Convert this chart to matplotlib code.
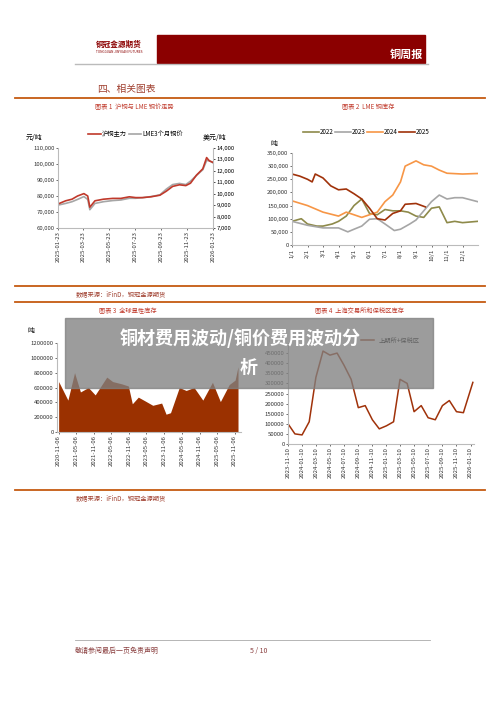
import matplotlib
matplotlib.use("Agg")
import matplotlib.pyplot as plt
import matplotlib.dates as mdates
import numpy as np
import pandas as pd

plt.rcParams['font.family'] = ['Noto Sans CJK SC', 'DejaVu Sans']

# Chart 1 data
c1_dates = ["2025-01-23","2025-02-10","2025-02-25","2025-03-10","2025-03-25","2025-04-03","2025-04-08","2025-04-20",
            "2025-05-10","2025-06-01","2025-06-20","2025-07-10","2025-07-25","2025-08-10","2025-08-30","2025-09-20",
            "2025-10-05","2025-10-20","2025-11-05","2025-11-20","2025-12-01","2025-12-15","2025-12-30","2026-01-08","2026-01-14","2026-01-23"]
c1_shfe = [75000,77000,78000,80000,81500,80000,73000,77000,78000,78500,78500,79500,79000,79000,79500,80500,
           83000,86000,87000,86500,88000,93000,97000,104000,102000,101000]
c1_lme = [9000,9150,9300,9500,9750,9500,8600,9150,9300,9400,9450,9600,9600,9650,9750,9900,
          10400,10800,10900,10800,11100,11600,12100,12900,12900,12700]

# Chart 2 data (month index on x)
y2022_x = [0,0.6,1,1.6,2,2.6,3,3.5,4,4.5,5,5.5,6,6.5,7,7.5,8,8.5,9,9.5,10,10.5,11,11.97]
y2022 = [90,100,80,72,72,80,90,110,150,175,120,115,135,130,130,125,110,105,140,145,85,90,85,90]
y2023_x = [0,1,2,3,3.6,4,4.5,5,5.5,6,6.6,7,7.6,8,8.5,9,9.5,10,10.5,11,11.97]
y2023 = [90,75,65,65,50,60,72,98,100,80,55,60,80,95,130,165,190,175,180,180,165]
y2024_x = [0,1,2,3,3.5,4,4.5,5,5.5,6,6.5,7,7.3,8,8.5,9,9.5,10,11,11.97]
y2024 = [168,150,125,110,125,115,105,115,125,165,190,240,300,320,305,300,285,273,270,272]
y2025_x = [0,0.5,1,1.3,1.5,2,2.5,3,3.5,4,4.5,5,5.5,6,6.5,7,7.3,8,8.6]
y2025 = [270,262,250,240,270,255,225,210,213,195,175,140,100,95,120,130,155,158,145]

# Chart 3 data
c3_dates = ["2020-11-06","2021-02-10","2021-04-20","2021-06-20","2021-09-10","2021-11-20","2022-03-20","2022-05-20",
            "2022-08-20","2022-10-30","2022-12-10","2023-02-10","2023-04-20","2023-07-10","2023-10-10","2023-11-25",
            "2024-01-10","2024-04-10","2024-06-20","2024-09-10","2024-12-10","2025-03-20","2025-06-10","2025-09-10",
            "2025-11-10","2025-12-10"]
c3_vals = [680000,430000,800000,540000,600000,500000,740000,680000,650000,620000,380000,470000,420000,360000,390000,240000,
           260000,600000,560000,600000,430000,670000,410000,640000,700000,880000]

# Chart 4 data
c4_dates = ["2023-11-10","2023-12-10","2024-01-10","2024-02-10","2024-03-10","2024-04-10","2024-05-10","2024-06-10",
            "2024-07-10","2024-08-10","2024-09-10","2024-10-10","2024-11-10","2024-12-10","2025-01-10","2025-02-10",
            "2025-03-10","2025-04-10","2025-05-10","2025-06-10","2025-07-10","2025-08-10","2025-09-10","2025-10-10",
            "2025-11-10","2025-12-10","2026-01-20"]
c4_vals = [100000,50000,45000,110000,330000,460000,440000,450000,390000,320000,180000,190000,120000,75000,90000,110000,
           320000,300000,160000,190000,130000,120000,190000,215000,160000,155000,305000]

W, H = 500, 707
fig = plt.figure(figsize=(5, 7.07), dpi=100)
fig.patch.set_facecolor('white')

def ax_px(x0, y0, x1, y1):
    return fig.add_axes([x0/W, 1-y1/H, (x1-x0)/W, (y1-y0)/H])

def txt(x, y, s, **kw):
    fig.text(x/W, 1-y/H, s, **kw)

def hline(y, x0, x1, color, lw):
    fig.add_artist(plt.Line2D([x0/W, x1/W], [1-y/H, 1-y/H], color=color, lw=lw))

LINE_OR = '#C55A11'
TITLE_C = '#C0392B'
fmt_comma = matplotlib.ticker.FuncFormatter(lambda v, p: f"{int(v):,}")
fmt_plain = matplotlib.ticker.FuncFormatter(lambda v, p: f"{int(v)}")

# header
fig.add_artist(plt.Rectangle((157/W, 1-63/H), 268/W, 28/H, color='#8B0000', transform=fig.transFigure))
hline(64, 75, 428, '#BBBBBB', 1)
txt(96, 44, "铜冠金源期货", fontsize=5.5, color='#8B0000', weight='bold', va='center')
txt(96, 52, "TONGGUAN JINYUAN FUTURES", fontsize=2.3, color='#8B0000', va='center')
txt(423, 54, "铜周报", fontsize=8, color='white', weight='bold', ha='right', va='center')
txt(97, 89, "四、相关图表", fontsize=7, color='#A04030', va='center')
for yy in [98, 286, 302, 490]:
    hline(yy, 15, 485, LINE_OR, 1.3)
txt(134, 107, "图表 1  沪铜与 LME 铜价走势", fontsize=4.5, color=TITLE_C, ha='center', va='center')
txt(368, 107, "图表 2  LME 铜库存", fontsize=4.5, color=TITLE_C, ha='center', va='center')
txt(76, 294, "数据来源：iFinD，铜冠金源期货", fontsize=4.5, color='#A04030', va='center')
txt(99, 311, "图表 3  全球显性库存", fontsize=4.5, color=TITLE_C, va='center')
txt(315, 311, "图表 4  上海交易所和保税区库存", fontsize=4.5, color=TITLE_C, va='center')
txt(76, 498, "数据来源：iFinD，铜冠金源期货", fontsize=4.5, color='#A04030', va='center')
hline(640, 75, 430, '#AAAAAA', 0.6)
txt(75, 651, "敬请参阅最后一页免责声明", fontsize=5, color='#8B4040', style='italic', va='center')
txt(250, 651, "5 / 10", fontsize=5, color='#8B4040', va='center')

def style(ax, fs=4.3):
    for s in ['top', 'right']:
        ax.spines[s].set_visible(False)
    ax.spines['left'].set_color('#BBBBBB')
    ax.spines['bottom'].set_color('#BBBBBB')
    ax.tick_params(labelsize=fs, length=1.5, width=0.5, colors='#333333', pad=1)

# Chart 1
ax1 = ax_px(58, 148, 213, 228)
d1 = pd.to_datetime(c1_dates)
ax1.set_ylim(60000, 110000)
ax1.set_yticks(range(60000, 110001, 10000))
ax1.yaxis.set_major_formatter(fmt_comma)
ax1.set_xlim(pd.Timestamp("2025-01-23"), pd.Timestamp("2026-01-23"))
ax1.set_xticks(pd.to_datetime(["2025-01-23","2025-03-23","2025-05-23","2025-07-23","2025-09-23","2025-11-23","2026-01-23"]))
ax1.xaxis.set_major_formatter(mdates.DateFormatter('%Y-%m-%d'))
style(ax1)
plt.setp(ax1.get_xticklabels(), rotation=90)
ax1b = ax1.twinx()
h2, = ax1b.plot(d1, c1_lme, color='#A6A6A6', lw=1.2)
ax1b.set_ylim(7000, 14000)
ax1b.set_yticks(range(7000, 14001, 1000))
ax1b.yaxis.set_major_formatter(fmt_comma)
for s in ['top', 'left', 'bottom']:
    ax1b.spines[s].set_visible(False)
ax1b.spines['right'].set_color('#BBBBBB')
ax1b.tick_params(labelsize=4.3, length=1.5, width=0.5, pad=1)
ax1.set_zorder(ax1b.get_zorder() + 1)
ax1.patch.set_visible(False)
h1, = ax1.plot(d1, c1_shfe, color='#C0392B', lw=1.2)
ax1.legend([h1, h2], ['沪铜主力', 'LME3个月铜价'], loc='lower center', bbox_to_anchor=(0.5, 1.05),
           ncol=2, frameon=False, fontsize=4.5, handlelength=2, columnspacing=0.3, handletextpad=0.2)
txt(26, 138, "元/吨", fontsize=5, va='center')
txt(203, 138, "美元/吨", fontsize=5, va='center')

# Chart 2
ax2 = ax_px(292, 153, 478, 245)
ax2.plot(y2022_x, np.array(y2022)*1000, color='#8E8A4A', lw=1.2, label='2022')
ax2.plot(y2023_x, np.array(y2023)*1000, color='#A6A6A6', lw=1.2, label='2023')
ax2.plot(y2024_x, np.array(y2024)*1000, color='#F79646', lw=1.2, label='2024')
ax2.plot(y2025_x, np.array(y2025)*1000, color='#A0320A', lw=1.2, label='2025')
ax2.set_ylim(0, 350000)
ax2.set_yticks(range(0, 350001, 50000))
ax2.yaxis.set_major_formatter(fmt_comma)
ax2.set_xlim(0, 12)
ax2.set_xticks(range(12))
ax2.set_xticklabels([f"{m}/1" for m in range(1, 13)], rotation=90)
style(ax2)
ax2.legend(loc='lower center', bbox_to_anchor=(0.4, 1.12), ncol=4, frameon=False, fontsize=4.5,
           handlelength=2.5, columnspacing=0.3, handletextpad=0.1)
txt(270, 144, "吨", fontsize=5, va='center')

# Chart 3
ax3 = ax_px(57, 343, 241, 432)
d3 = pd.to_datetime(c3_dates)
ax3.fill_between(d3, c3_vals, color='#9B3100', lw=0)
ax3.set_ylim(0, 1200000)
ax3.set_yticks(range(0, 1200001, 200000))
ax3.yaxis.set_major_formatter(fmt_plain)
ax3.set_xlim(pd.Timestamp("2020-10-20"), pd.Timestamp("2026-01-10"))
ax3.set_xticks(pd.to_datetime([f"{y}-{m:02d}-06" for y in range(2020, 2026) for m in (5, 11)][1:]))
ax3.xaxis.set_major_formatter(mdates.DateFormatter('%Y-%m-%d'))
style(ax3)
plt.setp(ax3.get_xticklabels(), rotation=90)
txt(27, 331, "吨", fontsize=5, va='center')

# Chart 4
ax4 = ax_px(288, 343, 474, 444)
d4 = pd.to_datetime(c4_dates)
ax4.plot(d4, c4_vals, color='#A0320A', lw=1.1, label='上期所+保税区')
ax4.set_ylim(0, 500000)
ax4.set_yticks(range(0, 450001, 50000))
ax4.yaxis.set_major_formatter(fmt_plain)
ax4.set_xlim(pd.Timestamp("2023-11-10"), pd.Timestamp("2026-01-25"))
ticks4 = [pd.Timestamp(f"{y}-{m:02d}-10") for y in range(2023, 2027) for m in (1, 3, 5, 7, 9, 11)]
ticks4 = [t for t in ticks4 if pd.Timestamp("2023-11-10") <= t <= pd.Timestamp("2026-01-10")]
ax4.set_xticks(ticks4)
ax4.xaxis.set_major_formatter(mdates.DateFormatter('%Y-%m-%d'))
style(ax4)
plt.setp(ax4.get_xticklabels(), rotation=90)
ax4.legend(loc='upper center', bbox_to_anchor=(0.55, 1.12), frameon=False, fontsize=4.5, handlelength=2)

# overlay banner
fig.add_artist(plt.Rectangle((65/W, 1-388/H), 368/W, 70/H, color='#808080', alpha=0.78,
                             transform=fig.transFigure, zorder=10))
txt(240, 338, "铜材费用波动/铜价费用波动分", fontsize=13, color='white', weight='bold', ha='center', va='center', zorder=11)
txt(249, 367, "析", fontsize=13, color='white', weight='bold', ha='center', va='center', zorder=11)

fig.savefig("out.png", dpi=100)
